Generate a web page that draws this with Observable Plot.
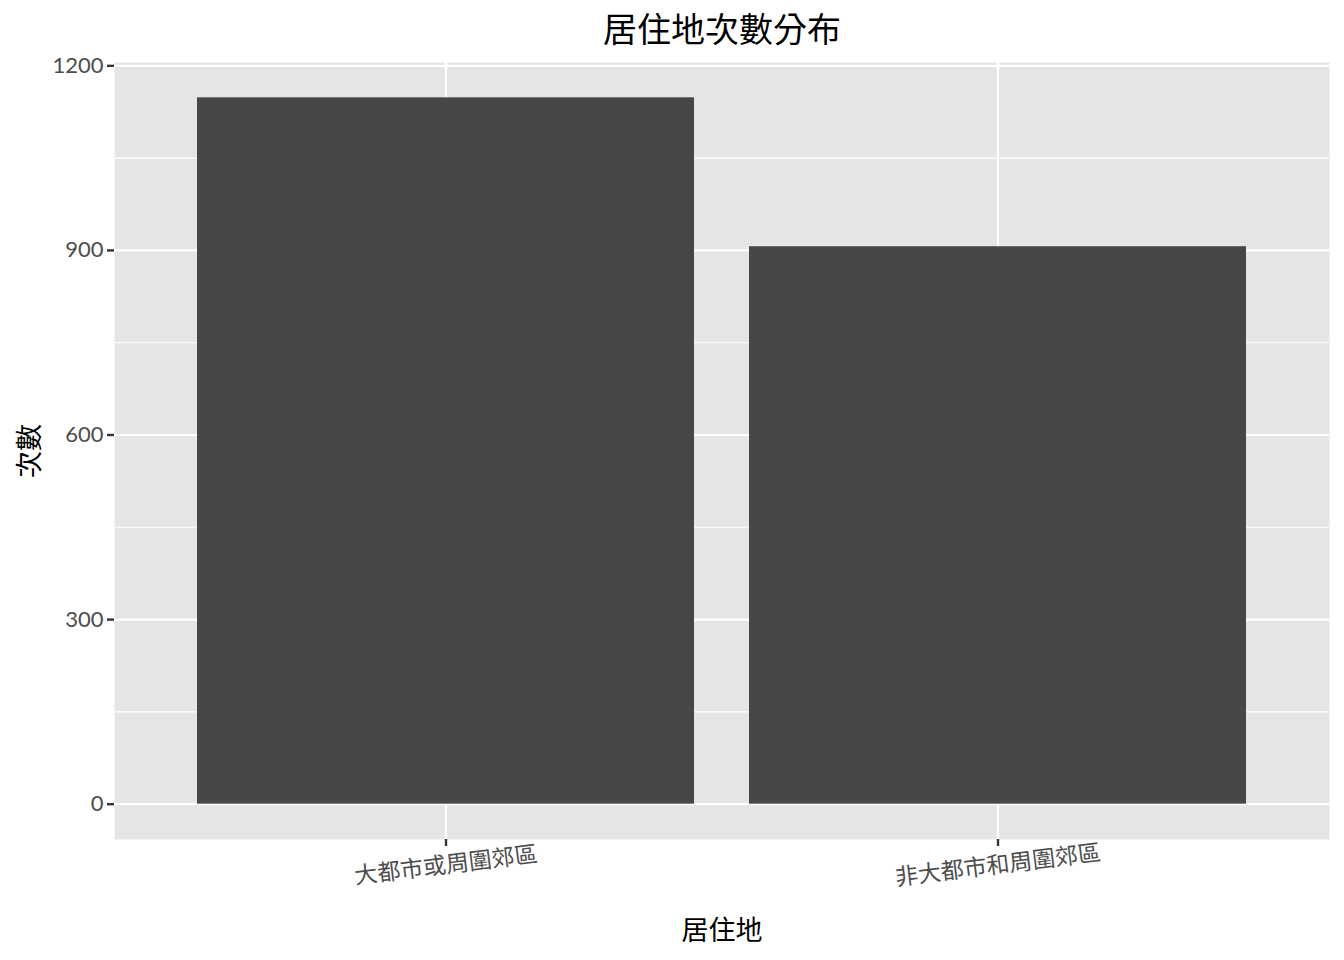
<!DOCTYPE html>
<html>
<head>
<meta charset="utf-8">
<script src="https://cdn.jsdelivr.net/npm/d3@7"></script>
<script src="https://cdn.jsdelivr.net/npm/@observablehq/plot@0.6"></script>
<style>
  html, body { margin: 0; padding: 0; background: #fff; }
  #chart svg { display: block; }
  #chart g[aria-label="y-axis tick"] path,
  #chart g[aria-label="x-axis tick"] path { stroke-width: 2.4px; }
</style>
</head>
<body>
<div id="chart"></div>
<script>
// Data
const categories = ["大都市或周圍郊區", "非大都市和周圍郊區"];
const counts = [1148, 906];
const yTicks = [0, 300, 600, 900, 1200];
const yMinorTicks = [150, 450, 750, 1050];
const titleText = "居住地次數分布";
const xLabel = "居住地";
const yLabel = "次數";

const data = categories.map((c, i) => ({cat: c, count: counts[i]}));
const ymax = d3.max(counts);
const pad = 0.05 * ymax;

const FONT = "Lato, 'Noto Sans CJK TC', 'Noto Sans', sans-serif";
const CJK = "'Noto Sans CJK TC', 'Noto Sans', sans-serif";

const chart = Plot.plot({
  width: 1344,
  height: 960,
  marginLeft: 114,
  marginRight: 15,
  marginTop: 62,
  marginBottom: 121,
  style: {fontFamily: FONT, background: "#fff"},
  x: {domain: categories, type: "band", paddingInner: 0.1, paddingOuter: 0.15, align: 0.5, axis: null},
  y: {domain: [-pad, ymax + pad], axis: null},
  marks: [
    Plot.frame({fill: "#E5E5E5", stroke: null}),
    Plot.gridY({ticks: yMinorTicks, stroke: "#fff", strokeOpacity: 1, strokeWidth: 1.1}),
    Plot.gridY({ticks: yTicks, stroke: "#fff", strokeOpacity: 1, strokeWidth: 2.2}),
    Plot.gridX({stroke: "#fff", strokeOpacity: 1, strokeWidth: 2.2}),
    Plot.barY(data, {x: "cat", y: "count", fill: "#474747"}),
    Plot.axisY({ticks: yTicks, tickFormat: d => String(d), tickSize: 7, tickPadding: 4, strokeWidth: 2.4, stroke: "#333", fill: "#4D4D4D", fontSize: 22, label: null}),
    Plot.axisX({tickSize: 7, strokeWidth: 2.4, stroke: "#333", tickFormat: () => "", label: null}),
    Plot.text(categories, {x: d => d, frameAnchor: "bottom", dy: 26, rotate: -7, fontSize: 23, fill: "#4D4D4D", lineAnchor: "middle", textAnchor: "middle", fontFamily: CJK}),
    Plot.text([titleText], {frameAnchor: "top", dy: -31, fontSize: 34, fill: "#000", lineAnchor: "middle", textAnchor: "middle", fontFamily: CJK}),
    Plot.text([xLabel], {frameAnchor: "bottom", dy: 92, fontSize: 27, fill: "#000", lineAnchor: "middle", textAnchor: "middle", fontFamily: CJK}),
    Plot.text([yLabel], {frameAnchor: "left", dx: -84, rotate: -90, fontSize: 27, fill: "#000", lineAnchor: "middle", textAnchor: "middle", fontFamily: CJK})
  ]
});
document.getElementById("chart").appendChild(chart);
</script>
</body>
</html>
